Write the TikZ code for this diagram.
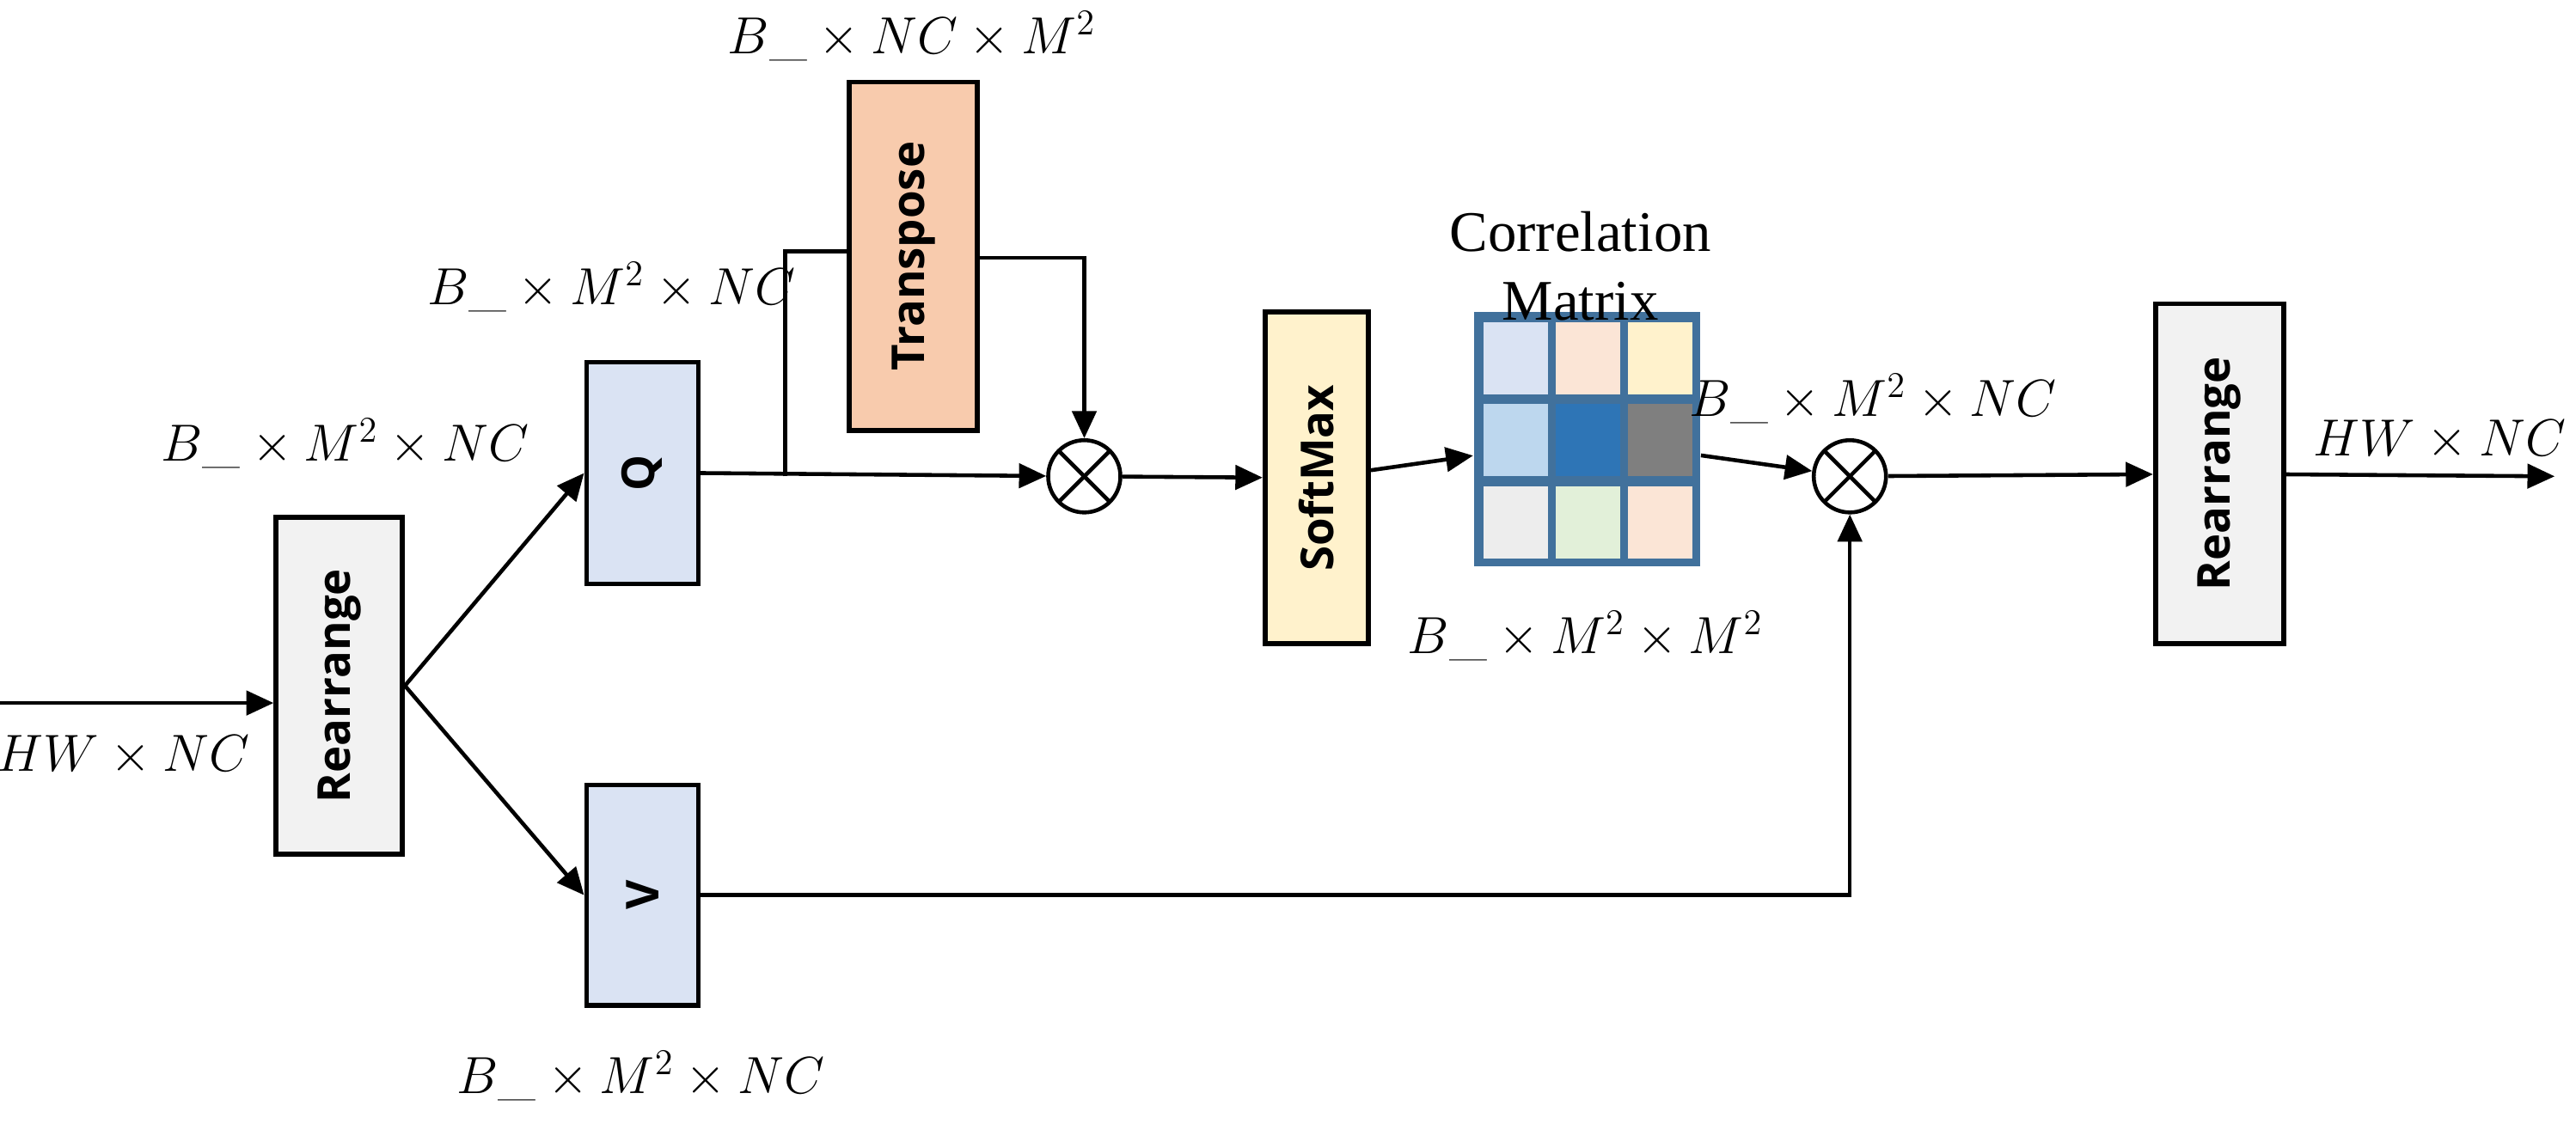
\documentclass[tikz,border=0pt]{standalone}
\usepackage{fontspec}
\usepackage{amsmath}
\newfontfamily\boxfont{Open Sans}
\newfontfamily\serfont{Liberation Serif}
\usetikzlibrary{arrows.meta}
\definecolor{qv}{HTML}{DAE3F3}
\definecolor{rr}{HTML}{F2F2F2}
\definecolor{tp}{HTML}{F8CBAD}
\definecolor{sm}{HTML}{FFF2CC}
\definecolor{mb}{HTML}{41719C}
\begin{document}
\begin{tikzpicture}[x=0.01911cm,y=-0.01911cm,
  box/.style={draw,line width=1.6pt,inner sep=0pt,font=\boxfont\bfseries\fontsize{15}{18}\selectfont},
  lbl/.style={font=\fontsize{18}{22}\selectfont},
  ar/.style={line width=1.3pt,-{Triangle[length=9pt,width=8pt]}},
  ln/.style={line width=1.3pt},
  ot/.style={circle,draw,line width=1.3pt,minimum size=0.84cm,inner sep=0pt,
    path picture={\draw[line width=1.3pt] (path picture bounding box.south west)--(path picture bounding box.north east)
      (path picture bounding box.north west)--(path picture bounding box.south east);}}]
\useasboundingbox (0,0) rectangle (1568,687.6);
\newcommand{\bx}[6]{\node[box,fill=#6,minimum width=#3*0.01911cm,minimum height=#4*0.01911cm] (#5) at (#1,#2) {\rotatebox{90}{#5txt}};}
% boxes
\node[box,fill=rr,minimum width=77*0.01911cm,minimum height=205*0.01911cm] (r1) at (206.5,417.5) {\rotatebox{90}{Rearrange}};
\node[box,fill=qv,minimum width=68*0.01911cm,minimum height=135*0.01911cm] (q) at (391,288) {\rotatebox{90}{Q}};
\node[box,fill=qv,minimum width=68*0.01911cm,minimum height=134*0.01911cm] (v) at (391,545) {\rotatebox{90}{V}};
\node[box,fill=tp,minimum width=78*0.01911cm,minimum height=212*0.01911cm] (t) at (556,156) {\rotatebox{90}{Transpose}};
\node[box,fill=sm,minimum width=63*0.01911cm,minimum height=202*0.01911cm] (s) at (801.5,291) {\rotatebox{90}{SoftMax}};
\node[box,fill=rr,minimum width=78*0.01911cm,minimum height=207*0.01911cm] (r2) at (1351,288.5) {\rotatebox{90}{Rearrange}};
\node[ot] (o1) at (660,290) {};
\node[ot] (o2) at (1126,290) {};
% matrix
\fill[mb] (897,190) rectangle (1035,345);
\foreach \c [count=\i from 0] in {DAE3F3,FBE5D6,FFF2CC,BDD7EE,2E75B6,7F7F7F,EDEDED,E2F0D9,FBE5D6}{
  \pgfmathtruncatemacro\cx{mod(\i,3)}\pgfmathtruncatemacro\cy{int(\i/3)}
  \definecolor{cc}{HTML}{\c}
  \fill[cc] ({903+\cx*44},{196+\cy*50}) rectangle ({903+\cx*44+39},{196+\cy*50+44});
}
\node[minimum width=138*0.01911cm,minimum height=155*0.01911cm,inner sep=0pt] (m) at (966,267.5) {};
% labels
\node[lbl] at (75,460) {$HW\times NC$};
\node[lbl] at (210,270) {$B\_\times M^2\times NC$};
\node[lbl] at (372,175) {$B\_\times M^2\times NC$};
\node[lbl] at (390,655) {$B\_\times M^2\times NC$};
\node[lbl] at (555,22) {$B\_\times NC\times M^2$};
\node[font=\serfont\fontsize{19}{23}\selectfont,align=center] at (962,162) {Correlation\\Matrix};
\node[lbl] at (965,387) {$B\_\times M^2\times M^2$};
\node[lbl] at (1140,243) {$B\_\times M^2\times NC$};
\node[lbl] at (1485,268) {$HW\times NC$};
% connectors
\coordinate (in) at (0,428);
\coordinate (out) at (1555,290);
\draw[ar] (in) -- (r1.west|-in);
\draw[ar] (r1.east) -- (q.west);
\draw[ar] (r1.east) -- (v.west);
\draw[ar] (q.east) -- (o1);
\draw[ln] (478,290) -- (478,153) -- (t.west|-0,153);
\draw[ar] (t.east|-0,157) -| (o1);
\draw[ar] (o1) -- (s);
\draw[ar] (s) -- (m);
\draw[ar] (m) -- (o2);
\draw[ar] (v) -| (o2);
\draw[ar] (o2) -- (r2);
\draw[ar] (r2) -- (out);
\end{tikzpicture}
\end{document}
